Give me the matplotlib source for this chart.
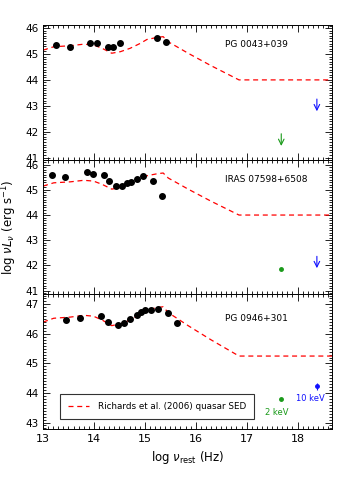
import matplotlib.pyplot as plt
import numpy as np

# Richards et al. (2006) mean quasar SED template (normalised to panel 1)
sed_x = [13.0, 13.21, 13.54, 13.80, 13.99, 14.16, 14.35, 14.52, 14.71, 14.91,
         15.04, 15.24, 15.36, 15.46, 15.63, 15.85, 16.30, 16.85, 18.7]
sed_y = [45.15, 45.28, 45.32, 45.38, 45.35, 45.22, 45.03, 45.09, 45.22, 45.41,
         45.56, 45.64, 45.67, 45.47, 45.28, 45.03, 44.55, 44.0, 44.0]
sed_offset = [0.0, 0.0, 1.25]

names = ["PG 0043+039", "IRAS 07598+6508", "PG 0946+301"]
label_y = [45.35, 45.4, 46.53]
ylims = [(40.92, 46.12), (40.85, 46.2), (42.78, 47.34)]

# photometry
pg0043_x = [13.26, 13.52, 13.93, 14.06, 14.27, 14.38, 14.51, 15.24, 15.42]
pg0043_y = [45.35, 45.28, 45.44, 45.41, 45.28, 45.28, 45.41, 45.63, 45.47]
iras_x = [13.18, 13.44, 13.86, 13.99, 14.19, 14.30, 14.43, 14.56, 14.64, 14.73,
          14.84, 14.97, 15.16, 15.34]
iras_y = [45.59, 45.53, 45.70, 45.64, 45.58, 45.36, 45.17, 45.16, 45.29, 45.32,
          45.45, 45.54, 45.36, 44.74]
pg0946_x = [13.46, 13.73, 14.14, 14.27, 14.47, 14.59, 14.71, 14.84, 14.93, 15.01,
            15.12, 15.26, 15.45, 15.63]
pg0946_y = [46.46, 46.53, 46.59, 46.39, 46.31, 46.38, 46.50, 46.64, 46.74, 46.82,
            46.81, 46.84, 46.72, 46.36]
phot = [(pg0043_x, pg0043_y), (iras_x, iras_y), (pg0946_x, pg0946_y)]

# X-ray: 2 keV and 10 keV  (value, is_upper_limit)
xray_nu = [17.68, 18.38]
xray_2kev = [(41.92, True), (41.87, False), (43.78, False)]
xray_10kev = [(43.26, True), (42.36, True), (44.22, False)]
err_10kev = [0, 0, 0.13]

green = "#1a9a1a"
blue = "#1010ff"

fig = plt.figure(figsize=(3.5, 5), dpi=100)
left, right = 0.123, 0.949
top, bot = 0.95, 0.142
h = (top - bot) / 3
axes = []
for i in range(3):
    ax = fig.add_axes([left, top - (i + 1) * h, right - left, h])
    axes.append(ax)
    ax.plot(sed_x, np.array(sed_y) + sed_offset[i], color="red", ls=(0, (4, 3)),
            lw=0.9, label="Richards et al. (2006) quasar SED")
    ax.plot(phot[i][0], phot[i][1], "o", color="black", ms=4)
    ax.text(16.58, label_y[i], names[i], fontsize=6.5, va="center")

    for (val, lim), col, nu, err in [(xray_2kev[i], green, xray_nu[0], 0),
                                     (xray_10kev[i], blue, xray_nu[1], err_10kev[i])]:
        if lim:
            ax.annotate("", xy=(nu, val - 0.47), xytext=(nu, val),
                        arrowprops=dict(arrowstyle="->", color=col, lw=0.8,
                                        shrinkA=0, shrinkB=0))
        else:
            ax.errorbar(nu, val, yerr=err if err else None, fmt="o", color=col,
                        ms=2.5, elinewidth=0.8, capsize=0)

    ax.set_xlim(13, 18.68)
    ax.set_ylim(*ylims[i])
    ax.set_yticks(range(int(np.ceil(ylims[i][0])), int(ylims[i][1]) + 1))
    ax.minorticks_on()
    ax.xaxis.set_minor_locator(plt.MultipleLocator(0.1))
    ax.yaxis.set_minor_locator(plt.MultipleLocator(0.1))
    ax.tick_params(which="both", direction="in", top=True, right=True,
                   labelsize=7.5, width=0.6)
    ax.tick_params(axis="x", labelsize=8)
    ax.tick_params(which="major", length=5)
    ax.tick_params(which="minor", length=2.5)
    for s in ax.spines.values():
        s.set_linewidth(0.7)
    if i < 2:
        ax.tick_params(labelbottom=False)

ax = axes[2]
ax.text(17.60, 43.34, "2 keV", color=green, fontsize=6, ha="center", va="center")
ax.text(18.26, 43.80, "10 keV", color=blue, fontsize=6, ha="center", va="center")
leg = ax.legend(loc="lower left", bbox_to_anchor=(0.06, 0.075), fontsize=6.3,
                frameon=True, fancybox=False, handlelength=2.4, handletextpad=1.0,
                borderpad=0.9, borderaxespad=0)
leg.get_frame().set_edgecolor("black")
leg.get_frame().set_linewidth(0.8)

ax.set_xlabel(r"log $\nu_{\rm rest}$ (Hz)", fontsize=8.5)
axes[1].set_ylabel(r"log $\nu L_\nu$ (erg s$^{-1}$)", fontsize=8.5)

fig.savefig("out.png", dpi=100)
